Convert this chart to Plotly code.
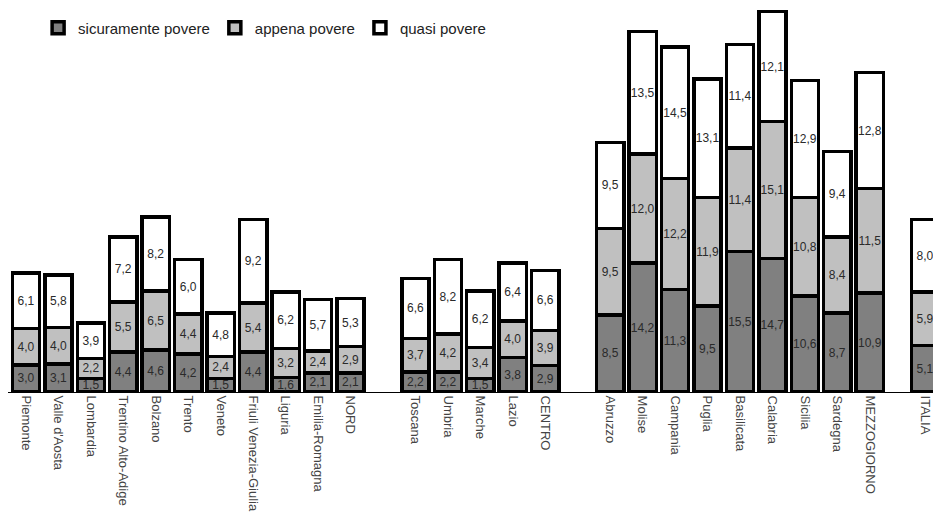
import plotly.graph_objects as go

# ---- data ----
nord = ["Piemonte", "Valle d'Aosta", "Lombardia", "Trentino Alto-Adige", "Bolzano",
        "Trento", "Veneto", "Friuli Venezia-Giulia", "Liguria", "Emilia-Romagna", "NORD"]
centro = ["Toscana", "Umbria", "Marche", "Lazio", "CENTRO"]
sud = ["Abruzzo", "Molise", "Campania", "Puglia", "Basilicata", "Calabria",
       "Sicilia", "Sardegna", "MEZZOGIORNO"]
italia = ["ITALIA"]

groups = [nord, centro, sud, italia]
categories = nord + centro + sud + italia

sicuramente = [3.0, 3.1, 1.5, 4.4, 4.6, 4.2, 1.5, 4.4, 1.6, 2.1, 2.1,
               2.2, 2.2, 1.5, 3.8, 2.9,
               8.5, 14.2, 11.3, 9.5, 15.5, 14.7, 10.6, 8.7, 10.9,
               5.1]
appena = [4.0, 4.0, 2.2, 5.5, 6.5, 4.4, 2.4, 5.4, 3.2, 2.4, 2.9,
          3.7, 4.2, 3.4, 4.0, 3.9,
          9.5, 12.0, 12.2, 11.9, 11.4, 15.1, 10.8, 8.4, 11.5,
          5.9]
quasi = [6.1, 5.8, 3.9, 7.2, 8.2, 6.0, 4.8, 9.2, 6.2, 5.7, 5.3,
         6.6, 8.2, 6.2, 6.4, 6.6,
         9.5, 13.5, 14.5, 13.1, 11.4, 12.1, 12.9, 9.4, 12.8,
         8.0]

series_names = ["sicuramente povere", "appena povere", "quasi povere"]

# spacing (in bar slots) between the last bar of a group and the first of the next
group_steps = [2.0, 2.0, 1.7]

# bar slot positions derived from the group structure
positions = []
cur = 0.0
for gi, g in enumerate(groups):
    for k in range(len(g)):
        positions.append(cur)
        cur += 1.0
    if gi < len(group_steps):
        cur += group_steps[gi] - 1.0


def fmt(v):
    return f"{v:.1f}".replace(".", ",")


FONT = "Liberation Sans, Arial, sans-serif"
colors = ["#808080", "#c0c0c0", "#ffffff"]

fig = go.Figure()
for name, vals, col in zip(series_names, [sicuramente, appena, quasi], colors):
    fig.add_trace(go.Bar(
        name=name,
        x=positions,
        y=vals,
        text=[fmt(v) for v in vals],
        textposition="inside",
        insidetextanchor="middle",
        textangle=0,
        constraintext="none",
        textfont=dict(family=FONT, size=12, color="#2a2a2a"),
        marker=dict(color=col, line=dict(color="#000000", width=3.5)),
        width=0.84,
        hoverinfo="skip",
    ))

fig.update_layout(
    barmode="stack",
    width=941,
    height=514,
    margin=dict(l=0, r=0, t=0, b=130),
    paper_bgcolor="white",
    plot_bgcolor="white",
    font=dict(family=FONT, size=12, color="#333333"),
    showlegend=True,
    legend=dict(
        orientation="h",
        traceorder="normal",
        x=0.032,
        y=0.948,
        xanchor="left",
        yanchor="middle",
        font=dict(family=FONT, size=15, color="#222222"),
        itemwidth=30,
        bgcolor="rgba(0,0,0,0)",
    ),
    xaxis=dict(
        tickmode="array",
        tickvals=positions,
        ticktext=categories,
        range=[-0.555, 28.44],
        tickangle=90,
        showline=True,
        linecolor="#000000",
        linewidth=1,
        showgrid=False,
        zeroline=False,
        ticks="",
        tickfont=dict(family=FONT, size=13, color="#444444"),
        fixedrange=True,
    ),
    yaxis=dict(
        range=[0, 42.3],
        visible=False,
        showgrid=False,
        zeroline=False,
        fixedrange=True,
    ),
)

fig.write_html("out.html")
